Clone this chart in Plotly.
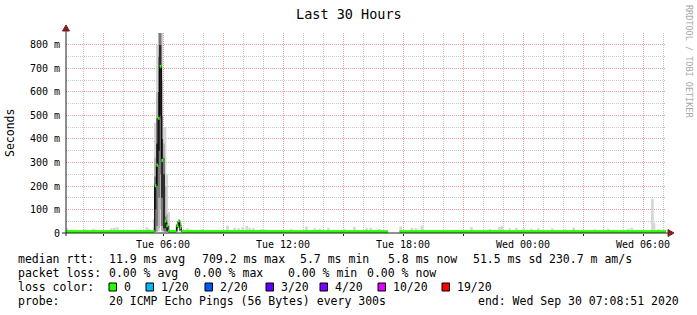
import pandas as pd
import plotly.graph_objects as go

# ---------------- data ----------------
t_start = "2020-09-29 01:08:51"
t_end = "2020-09-30 07:08:51"

# 5-minute steps (interval start) where the 20 pings spread widely (values in ms)
step_start = ["2020-09-29 05:30", "2020-09-29 05:35", "2020-09-29 05:40", "2020-09-29 05:45",
              "2020-09-29 05:50", "2020-09-29 05:55", "2020-09-29 06:00", "2020-09-29 06:05",
              "2020-09-29 06:10", "2020-09-29 06:15", "2020-09-29 06:40", "2020-09-29 06:45",
              "2020-09-29 06:50"]
step_median = [6.1, 201, 289, 488, 709, 309, None, 50, 31, 6.2, 31, 51, 23]
step_min = [5.8, 5.8, 5.8, 5.9, 30, 5.9, 6.0, 5.9, 5.8, 5.7, 6.0, 20, 8]
step_p10 = [5.9, 6, 6, 20, 100, 8, 8, 6, 6, 5.8, 6.5, 22, 9]
step_p25 = [6.0, 6, 30, 150, 250, 30, 10, 6, 6, 5.9, 8, 24, 10]
step_p40 = [6.0, 100, 200, 350, 500, 150, 20, 20, 10, 6.0, 20, 40, 15]
step_p60 = [6.2, 205, 380, 600, 800, 400, 250, 55, 35, 6.4, 33, 53, 28]
step_p75 = [6.5, 240, 490, 750, 880, 500, 320, 70, 45, 7, 36, 54, 35]
step_p90 = [20, 320, 600, 880, 880, 650, 380, 200, 80, 30, 38, 55, 45]
step_max = [60, 470, 800, 880, 880, 880, 450, 450, 250, 90, 40, 56, 55]

# quiet baseline: median rtt per segment (None = no data)
base_start = ["2020-09-29 01:08:51", "2020-09-29 02:00", "2020-09-29 03:00", "2020-09-29 04:00",
              "2020-09-29 05:00", "2020-09-29 06:20", "2020-09-29 06:55", "2020-09-29 08:00",
              "2020-09-29 09:00", "2020-09-29 10:00", "2020-09-29 11:00", "2020-09-29 12:00",
              "2020-09-29 13:00", "2020-09-29 14:00", "2020-09-29 15:00", "2020-09-29 16:00",
              "2020-09-29 17:00", "2020-09-29 17:15", "2020-09-29 17:50", "2020-09-29 19:00",
              "2020-09-29 20:00", "2020-09-29 21:00", "2020-09-29 22:00", "2020-09-29 23:00",
              "2020-09-30 00:00", "2020-09-30 01:00", "2020-09-30 02:00", "2020-09-30 03:00",
              "2020-09-30 04:00", "2020-09-30 05:00", "2020-09-30 06:00", "2020-09-30 07:00"]
base_end = ["2020-09-29 02:00", "2020-09-29 03:00", "2020-09-29 04:00", "2020-09-29 05:00",
            "2020-09-29 05:30", "2020-09-29 06:40", "2020-09-29 08:00", "2020-09-29 09:00",
            "2020-09-29 10:00", "2020-09-29 11:00", "2020-09-29 12:00", "2020-09-29 13:00",
            "2020-09-29 14:00", "2020-09-29 15:00", "2020-09-29 16:00", "2020-09-29 17:00",
            "2020-09-29 17:15", "2020-09-29 17:50", "2020-09-29 19:00", "2020-09-29 20:00",
            "2020-09-29 21:00", "2020-09-29 22:00", "2020-09-29 23:00", "2020-09-30 00:00",
            "2020-09-30 01:00", "2020-09-30 02:00", "2020-09-30 03:00", "2020-09-30 04:00",
            "2020-09-30 05:00", "2020-09-30 06:00", "2020-09-30 07:00", "2020-09-30 07:08:51"]
base_median = [5.9, 5.8, 5.9, 6.0, 6.1, 6.2, 6.0, 5.9, 6.0, 6.1, 5.9, 5.8, 6.0, 5.9, 5.8, 5.9,
               5.8, None, 5.8, 5.9, 5.8, 5.8, 5.9, 5.8, 5.8, 5.7, 5.8, 5.8, 5.8, 5.9, 5.8, 5.8]

rtt_min = 5.7
# light smoke bumps above the baseline (max ping of the step, ms)
bump_time = ["2020-09-29 01:12", "2020-09-29 02:06", "2020-09-29 02:30", "2020-09-29 02:36",
             "2020-09-29 03:25", "2020-09-29 03:34", "2020-09-29 03:43", "2020-09-29 05:11",
             "2020-09-29 05:16", "2020-09-29 07:13", "2020-09-29 07:58", "2020-09-29 09:13",
             "2020-09-29 09:35", "2020-09-29 09:47", "2020-09-29 09:59", "2020-09-29 10:11",
             "2020-09-29 10:20", "2020-09-29 10:31", "2020-09-29 10:56", "2020-09-29 11:08",
             "2020-09-29 12:25", "2020-09-29 13:10", "2020-09-29 13:35", "2020-09-29 13:50",
             "2020-09-29 14:16", "2020-09-29 15:04", "2020-09-29 15:34", "2020-09-29 16:11",
             "2020-09-29 16:23", "2020-09-29 16:49", "2020-09-29 17:53", "2020-09-29 18:26",
             "2020-09-29 18:38", "2020-09-29 18:57", "2020-09-29 19:43", "2020-09-29 20:35",
             "2020-09-29 21:25", "2020-09-29 22:20", "2020-09-29 22:49", "2020-09-29 22:56",
             "2020-09-29 23:20", "2020-09-29 23:40", "2020-09-30 00:02", "2020-09-30 00:25",
             "2020-09-30 00:46", "2020-09-30 01:28", "2020-09-30 02:05", "2020-09-30 02:32",
             "2020-09-30 03:35", "2020-09-30 04:16", "2020-09-30 05:16", "2020-09-30 05:26",
             "2020-09-30 06:28", "2020-09-30 06:33", "2020-09-30 06:47"]
bump_max = [22, 16, 17, 15, 20, 22, 24, 24, 18, 20, 17, 31, 22, 20, 26, 31, 22, 20, 17, 15,
            17, 28, 20, 18, 22, 17, 26, 20, 22, 17, 28, 22, 20, 32, 10, 12, 25, 17, 25, 30,
            20, 22, 20, 18, 20, 20, 16, 23, 16, 18, 18, 22, 145, 42, 16]

x_tick_vals = ["2020-09-29 03:00", "2020-09-29 06:00", "2020-09-29 09:00", "2020-09-29 12:00",
               "2020-09-29 15:00", "2020-09-29 18:00", "2020-09-29 21:00", "2020-09-30 00:00",
               "2020-09-30 03:00", "2020-09-30 06:00"]
x_tick_text = ["", "Tue 06:00", "", "Tue 12:00", "", "Tue 18:00", "", "Wed 00:00", "", "Wed 06:00"]
y_tick_vals = [0, 100, 200, 300, 400, 500, 600, 700, 800]
y_tick_text = ["0", "100 m", "200 m", "300 m", "400 m", "500 m", "600 m", "700 m", "800 m"]

loss_labels = ["0", "1/20", "2/20", "3/20", "4/20", "10/20", "19/20"]
loss_colors = ["#26ff00", "#00b8ff", "#0059ff", "#5e00ff", "#7e00ff", "#dd00ff", "#ff0000"]

rtt_stats = ["11.9 ms avg", "709.2 ms max", "5.7 ms min", "5.8 ms now", "51.5 ms sd", "230.7 m am/s"]
loss_stats = ["0.00 % avg", "0.00 % max", "0.00 % min", "0.00 % now"]
probe_text = "20 ICMP Echo Pings (56 Bytes) every 300s"
end_text = "end: Wed Sep 30 07:08:51 2020"

# ---------------- styling ----------------
MONO = "DejaVu Sans Mono"
GRID = "#c8c8c8"
MGRID = "rgb(236,158,158)"
ARROW = "#801f1f"
AXIS = "#1f1f1f"
L, R, T, B = 66, 666, 33, 233


def px(x):
    return (x - L) / (R - L)


def py(y):
    return (B - y) / (B - T)


FIVE = pd.Timedelta(minutes=5)
fig = go.Figure()

# smoke bumps on baseline
fig.add_trace(go.Bar(x=bump_time, base=[rtt_min] * len(bump_max),
                     y=[m - rtt_min for m in bump_max], width=8 * 60 * 1000,
                     marker=dict(color="#d6d6d6", line=dict(width=0)), hoverinfo="skip"))

# smoke bands for the wide steps (darker towards the median)
mid = [(pd.Timestamp(s) + FIVE / 2).strftime("%Y-%m-%d %H:%M:%S") for s in step_start]
for lo, hi, col in [(step_min, step_max, "#d6d6d6"), (step_p10, step_p90, "#b4b4b4"),
                    (step_p25, step_p75, "#7a7a7a"), (step_p40, step_p60, "#2e2e2e")]:
    fig.add_trace(go.Bar(x=mid, base=lo, y=[h - l for l, h in zip(lo, hi)], width=300000,
                         marker=dict(color=col, line=dict(width=0)), hoverinfo="skip"))

# median line
segs = [(pd.Timestamp(s), pd.Timestamp(e), m) for s, e, m in zip(base_start, base_end, base_median)]
segs += [(pd.Timestamp(s), pd.Timestamp(s) + FIVE, m) for s, m in zip(step_start, step_median)]
segs.sort(key=lambda r: r[0])
cx, cy, gx, gy = [], [], [], []
for s, e, m in segs:
    s1, e1 = s.strftime("%Y-%m-%d %H:%M:%S"), e.strftime("%Y-%m-%d %H:%M:%S")
    if m is None:
        cx.append(None); cy.append(None)
        continue
    cx += [s1, e1]; cy += [m, m]
    gx += [s1, e1, None]; gy += [m, m, None]
fig.add_trace(go.Scatter(x=cx, y=cy, mode="lines", line=dict(color="#000000", width=1),
                         connectgaps=False, hoverinfo="skip"))
fig.add_trace(go.Scatter(x=gx, y=gy, mode="lines", line=dict(color=loss_colors[0], width=3),
                         connectgaps=False, hoverinfo="skip"))

shapes = [
    dict(type="line", xref="paper", yref="paper", x0=px(62), x1=px(669), y0=0, y1=0,
         line=dict(color=AXIS, width=1)),
    dict(type="path", xref="paper", yref="paper",
         path=f"M{px(668)},{py(229.5)} L{px(674)},{py(233)} L{px(668)},{py(236.5)} Z",
         fillcolor=ARROW, line=dict(color=ARROW, width=1)),
    dict(type="line", xref="paper", yref="paper", x0=0, x1=0, y0=py(236), y1=py(29),
         line=dict(color=AXIS, width=1)),
    dict(type="path", xref="paper", yref="paper",
         path=f"M{px(62.5)},{py(31)} L{px(66)},{py(25)} L{px(69.5)},{py(31)} Z",
         fillcolor=ARROW, line=dict(color=ARROW, width=1)),
]

ann = []


def txt(x, y, s, size=11.5, color="black", anchor="left", angle=0):
    ann.append(dict(x=px(x), y=py(y), xref="paper", yref="paper", text=s, showarrow=False,
                    xanchor=anchor, yanchor="middle", textangle=angle,
                    font=dict(family=MONO, size=size, color=color)))


txt(348.5, 14, "Last 30 Hours", size=13.5, anchor="center")
txt(10, 133, "Seconds", size=11.5, anchor="center", angle=-90)
txt(689, 61, "RRDTOOL / TOBI OETIKER", size=8.5, color="#a8a8a8", anchor="center", angle=90)

PAD = 1.5
txt(17 - PAD, 259, "median rtt:")
for xx, s in zip([108, 201, 299, 387, 472, 548], rtt_stats):
    txt(xx - PAD, 259, s)
txt(17 - PAD, 273, "packet loss:")
for xx, s in zip([108, 193, 287, 366], loss_stats):
    txt(xx - PAD, 273, s)
txt(17 - PAD, 287, "loss color:")
for bx, lab, col in zip([109, 146, 205, 266, 320, 378, 442], loss_labels, loss_colors):
    shapes.append(dict(type="rect", xref="paper", yref="paper", x0=px(bx), x1=px(bx + 7.5),
                       y0=py(291), y1=py(283), fillcolor=col, line=dict(color="black", width=1)))
    txt(bx + 14 - PAD, 287, lab)
txt(17 - PAD, 301, "probe:")
txt(108 - PAD, 301, probe_text)
txt(681, 301, end_text, anchor="right")

fig.update_layout(
    width=697, height=315, margin=dict(l=L, r=697 - R, t=T, b=315 - B),
    paper_bgcolor="white", plot_bgcolor="white", barmode="overlay", showlegend=False,
    shapes=shapes, annotations=ann,
    xaxis=dict(type="date", range=[t_start, t_end], tickmode="array", tickvals=x_tick_vals,
               ticktext=x_tick_text, showgrid=True, gridcolor=MGRID, griddash="1px,1px",
               gridwidth=1, ticks="outside", ticklen=2, tickcolor=AXIS, zeroline=False,
               showline=False, tickfont=dict(family=MONO, size=10, color="black"),
               minor=dict(tickmode="linear", tick0="2020-09-29 00:00", dtick=3600000,
                          showgrid=True, gridcolor=GRID, griddash="1px,1px", ticks="")),
    yaxis=dict(range=[0, 851], tickmode="array", tickvals=y_tick_vals, ticktext=y_tick_text,
               showgrid=True, gridcolor=MGRID, griddash="1px,1px", zeroline=False, ticks="",
               showline=False, ticklabelstandoff=5,
               tickfont=dict(family=MONO, size=10, color="black"),
               minor=dict(tickmode="linear", tick0=0, dtick=50, showgrid=True,
                          gridcolor=GRID, griddash="1px,1px", ticks="")),
)

fig.write_html("out.html")
